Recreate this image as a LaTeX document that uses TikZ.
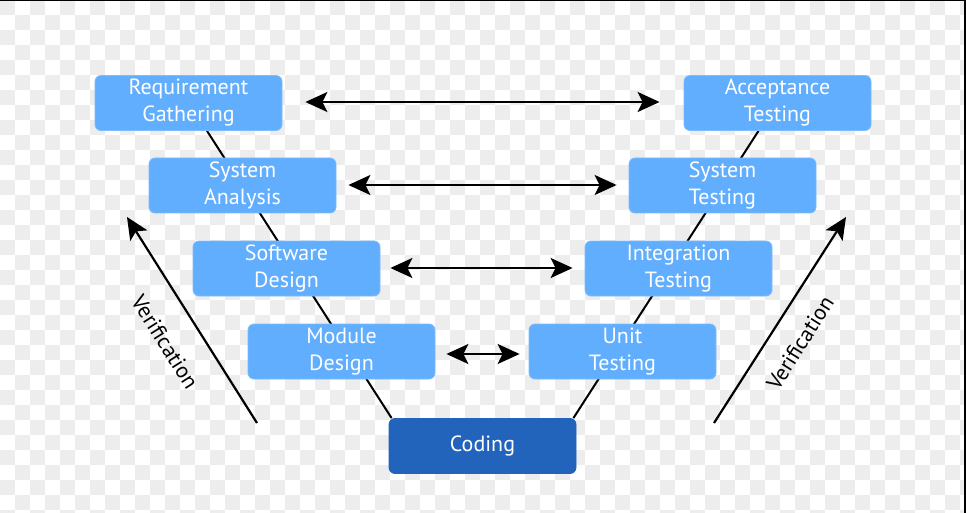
\documentclass[tikz,border=0pt]{standalone}
\usepackage{fontspec}
\setmainfont{PT Sans}
\usetikzlibrary{arrows.meta,backgrounds}
\definecolor{boxblue}{HTML}{62AEFE}
\definecolor{boxedge}{HTML}{7DBCFF}
\definecolor{codeblue}{HTML}{2264BB}
\definecolor{checker}{HTML}{EDEDED}
\tikzset{
  phase/.style={rounded corners=6pt, minimum width=187pt, minimum height=55pt,
    fill=boxblue, draw=boxedge, line width=0.8pt, text=white, align=center,
    font=\fontsize{22}{27}\selectfont, inner sep=0pt},
  codebox/.style={phase, fill=codeblue, draw=codeblue},
  vline/.style={line width=2pt, black},
  harrow/.style={line width=2.2pt, {Stealth[length=22pt,width=20pt,inset=5pt]}-{Stealth[length=22pt,width=20pt,inset=5pt]}},
  varrow/.style={line width=2.2pt, -{Stealth[length=22pt,width=20pt,inset=5pt]}},
  vlabel/.style={font=\fontsize{22}{24}\selectfont, inner sep=0pt}
}
\begin{document}
\begin{tikzpicture}[x=1pt,y=-1pt]
\useasboundingbox (0,0) rectangle (966,513);
% boxes
\node[phase] (req) at (188.5,103) {Requirement\\Gathering};
\node[phase] (acc) at (777.5,103) {Acceptance\\Testing};
\node[phase] (sya) at (242.5,185.5) {System\\Analysis};
\node[phase] (syt) at (722.5,185.5) {System\\Testing};
\node[phase] (swd) at (286.5,268.5) {Software\\Design};
\node[phase] (int) at (678.5,268.5) {Integration\\Testing};
\node[phase] (mod) at (341.5,351.5) {Module\\Design};
\node[phase] (unt) at (622.5,351.5) {Unit\\Testing};
\node[codebox] (cod) at (482.5,446) {Coding};
\begin{pgfonlayer}{background}
  \begin{scope}
    \clip (0,0) rectangle (966,513);
    \fill[white] (0,0) rectangle (966,513);
    \foreach \i in {0,2,...,64} {
      \foreach \j in {0,2,...,34} {
        \fill[checker] (\i*15,\j*15) rectangle ++(15,15);
        \fill[checker] (\i*15+15,\j*15+15) rectangle ++(15,15);
      }
    }
  \end{scope}
  \fill[black] (0,0) rectangle (966,1.3);
  \fill[black] (964,0) rectangle (966,513);
  \draw[vline] ([xshift=18.5pt]req.south) -- ([xshift=3pt]cod.north west);
  \draw[vline] ([xshift=-19pt]acc.south) -- ([xshift=-3pt]cod.north east);
\end{pgfonlayer}
% horizontal arrows
\draw[harrow] ([shift={(23,-1)}]req.east) -- ([shift={(-24,-1)}]acc.west);
\draw[harrow] ([shift={(12,-0.5)}]sya.east) -- ([shift={(-12,-0.5)}]syt.west);
\draw[harrow] ([shift={(10,-0.5)}]swd.east) -- ([shift={(-12,-0.5)}]int.west);
\draw[harrow] ([shift={(11,2.5)}]mod.east) -- ([shift={(-9,2.5)}]unt.west);
% verification arrows
\coordinate (vlA) at (257,423);
\coordinate (vlB) at (127,217);
\coordinate (vrA) at (714,423);
\coordinate (vrB) at (846,217);
\draw[varrow] (vlA) -- (vlB);
\draw[varrow] (vrA) -- (vrB);
\node[vlabel, rotate=-57.7] (vlt) at (165,342) {Verification};
\node[vlabel, rotate=57.7] (vrt) at (800,343) {Verification};
\end{tikzpicture}
\end{document}
